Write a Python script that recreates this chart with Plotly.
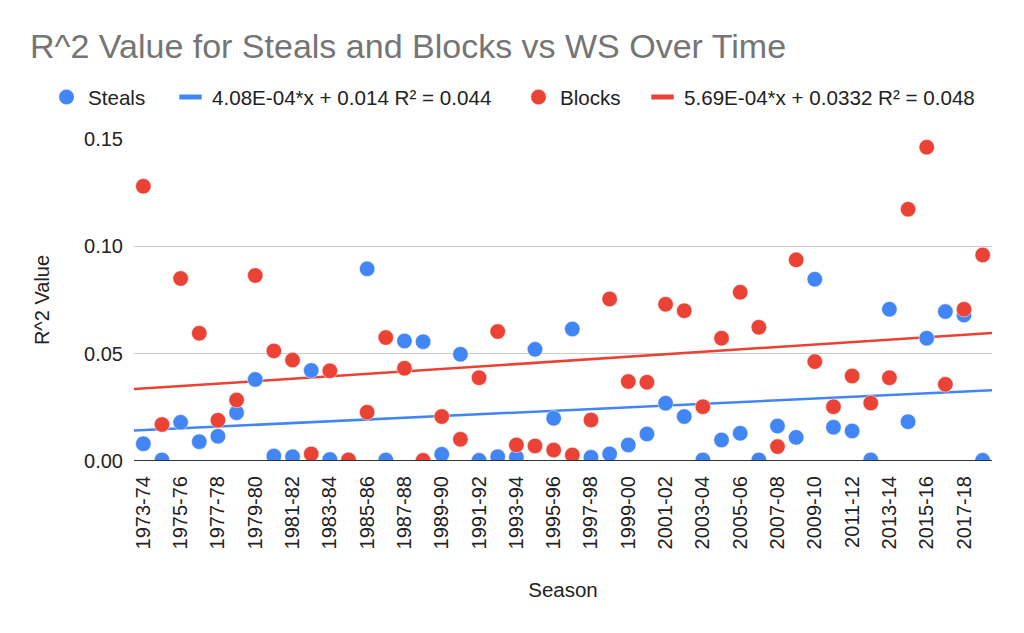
import plotly.graph_objects as go

seasons = ["1973-74","1974-75","1975-76","1976-77","1977-78","1978-79","1979-80","1980-81",
           "1981-82","1982-83","1983-84","1984-85","1985-86","1986-87","1987-88","1988-89",
           "1989-90","1990-91","1991-92","1992-93","1993-94","1994-95","1995-96","1996-97",
           "1997-98","1998-99","1999-00","2000-01","2001-02","2002-03","2003-04","2004-05",
           "2005-06","2006-07","2007-08","2008-09","2009-10","2010-11","2011-12","2012-13",
           "2013-14","2014-15","2015-16","2016-17","2017-18","2018-19"]

steals = [0.008, 0.0005, 0.018, 0.009, 0.0115, 0.0225, 0.038, 0.0023, 0.002, 0.0422,
          0.0007, 0.0006, 0.0895, 0.0005, 0.0559, 0.0556, 0.0031, 0.0497, 0.0003, 0.002,
          0.0017, 0.052, 0.0199, 0.0615, 0.0017, 0.0033, 0.0075, 0.0126, 0.0269, 0.0207,
          0.0005, 0.0098, 0.0129, 0.0005, 0.0163, 0.011, 0.0847, 0.0157, 0.014, 0.0005,
          0.0707, 0.0183, 0.0572, 0.0696, 0.068, 0.0003]

blocks = [0.128, 0.017, 0.085, 0.0595, 0.019, 0.0284, 0.0864, 0.0513, 0.047, 0.0033,
          0.042, 0.0005, 0.0227, 0.0575, 0.0432, 0.0003, 0.0207, 0.0101, 0.0388, 0.0603,
          0.0075, 0.007, 0.0051, 0.0028, 0.0191, 0.0755, 0.037, 0.0367, 0.073, 0.070,
          0.0253, 0.0572, 0.0786, 0.0623, 0.0067, 0.0937, 0.0463, 0.0253, 0.0396, 0.027,
          0.0388, 0.1173, 0.1462, 0.0357, 0.0707, 0.096]

steals_slope, steals_icpt = 4.08e-4, 0.014
blocks_slope, blocks_icpt = 5.69e-4, 0.0332
steals_trend_label = "4.08E-04*x + 0.014 R² = 0.044"
blocks_trend_label = "5.69E-04*x + 0.0332 R² = 0.048"

y_ticks = [0.0, 0.05, 0.10, 0.15]

BLUE = "#4285F4"
RED = "#EA4335"
FONT = "Liberation Sans, Arial, sans-serif"
TXT = "#222222"

idx = list(range(len(seasons)))
x_line = [-0.5, len(seasons) - 0.5]

fig = go.Figure()
# trendlines (drawn beneath the dots)
fig.add_trace(go.Scatter(x=x_line, y=[steals_slope * (x + 1) + steals_icpt for x in x_line],
                         mode="lines", showlegend=False,
                         line=dict(color=BLUE, width=2.5), hoverinfo="skip"))
fig.add_trace(go.Scatter(x=x_line, y=[blocks_slope * (x + 1) + blocks_icpt for x in x_line],
                         mode="lines", showlegend=False,
                         line=dict(color=RED, width=2.5), hoverinfo="skip"))
# dots
fig.add_trace(go.Scatter(x=idx, y=steals, mode="markers", name="Steals", legend="legend",
                         marker=dict(color=BLUE, size=15.5, line=dict(color="white", width=0.5))))
fig.add_trace(go.Scatter(x=idx, y=blocks, mode="markers", name="Blocks", legend="legend3",
                         marker=dict(color=RED, size=15.5, line=dict(color="white", width=0.5))))
# legend swatches for trendlines (short thick bars)
fig.add_trace(go.Scatter(x=[None], y=[None], mode="markers", name=steals_trend_label,
                         legend="legend2",
                         marker=dict(symbol="line-ew", size=20, color=BLUE,
                                     line=dict(color=BLUE, width=6))))
fig.add_trace(go.Scatter(x=[None], y=[None], mode="markers", name=blocks_trend_label,
                         legend="legend4",
                         marker=dict(symbol="line-ew", size=20, color=RED,
                                     line=dict(color=RED, width=6))))

plot_left, plot_w = 134, 858


def lx(center):
    return (center - 21 - plot_left) / plot_w


leg_common = dict(orientation="h", xanchor="left", y=1.13, yanchor="middle",
                  font=dict(size=20.6, color=TXT), bgcolor="rgba(0,0,0,0)", itemwidth=33)

fig.update_layout(
    width=1016, height=625,
    margin=dict(l=126, r=32, t=131, b=172),
    paper_bgcolor="white", plot_bgcolor="white",
    font=dict(family=FONT, size=20, color=TXT),
    title=dict(text="R^2 Value for Steals and Blocks vs WS Over Time",
               x=22 / 1016, xanchor="left", xref="container",
               y=1 - 38 / 625, yanchor="middle", yref="container",
               font=dict(family=FONT, size=34, color="#757575")),
    legend=dict(x=lx(66), **leg_common),
    legend2=dict(x=lx(190), **leg_common),
    legend3=dict(x=lx(538), **leg_common),
    legend4=dict(x=lx(662), **leg_common),
    showlegend=True,
)

fig.update_xaxes(
    range=[-0.5, len(seasons) - 0.5],
    tickmode="array", tickvals=idx[::2], ticktext=seasons[::2],
    tickangle=-90, showgrid=False, zeroline=False, showline=False, ticks="",
    ticklabelstandoff=10, tickfont=dict(size=20, color=TXT),
    title=dict(text="Season", font=dict(size=20.5, color=TXT), standoff=34),
)
fig.update_yaxes(
    range=[0, 0.15], tickmode="array", tickvals=y_ticks, tickformat=".2f",
    showgrid=True, gridcolor="#cccccc", gridwidth=1,
    zeroline=False, showline=False, ticks="", ticklabelstandoff=10,
    tickfont=dict(size=20, color=TXT),
    title=dict(text="R^2 Value", font=dict(size=20, color=TXT), standoff=29),
)
fig.add_hline(y=0, line=dict(color="#333333", width=2), layer="above")

fig.write_html("out.html")
